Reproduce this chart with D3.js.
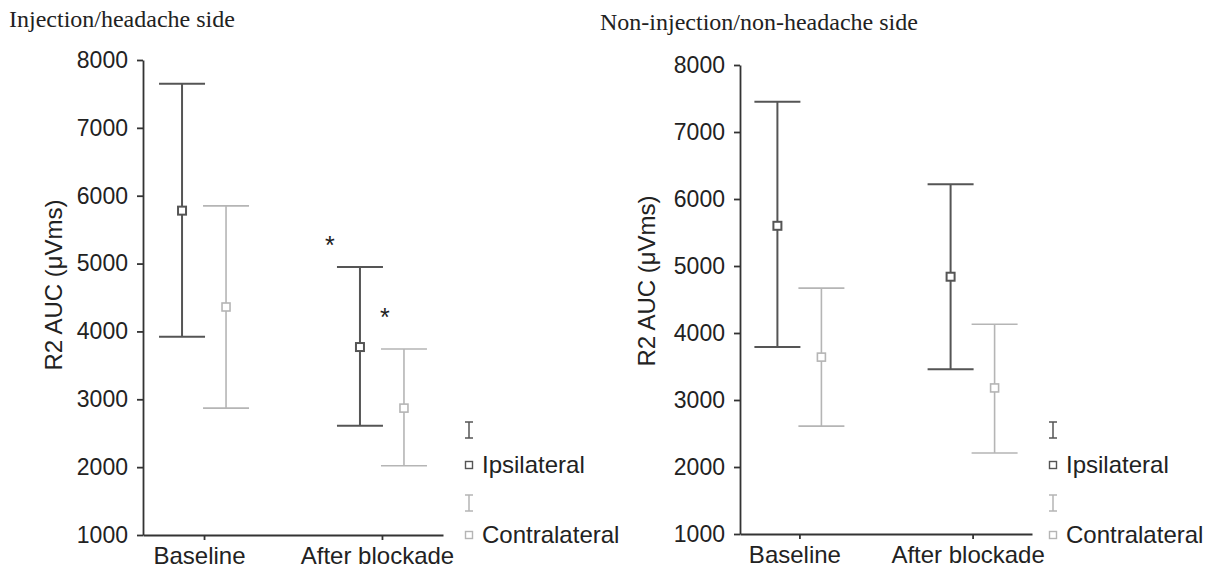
<!DOCTYPE html>
<html>
<head>
<meta charset="utf-8">
<script src="https://cdn.jsdelivr.net/npm/d3@7"></script>
<style>
  body { margin: 0; background: #fff; }
  svg { display: block; }
  text { font-family: Arial, "Liberation Sans", sans-serif; fill: #222; }
  .title { font-family: "Times New Roman", "Liberation Serif", serif; font-size: 24px; }
</style>
</head>
<body>
<svg width="1226" height="572"></svg>
<script>
// ---- data ----
var categories = ["Baseline", "After blockade"];
var series = ["Ipsilateral", "Contralateral"];
var yTicks = [1000, 2000, 3000, 4000, 5000, 6000, 7000, 8000];

// injection / headache side: [low, mean, high] per category
var injIpsi   = [[3920, 5780, 7650], [2610, 3770, 4950]];
var injContra = [[2870, 4360, 5850], [2020, 2870, 3740]];
// non-injection / non-headache side
var nonIpsi   = [[3790, 5600, 7450], [3460, 4840, 6220]];
var nonContra = [[2610, 3640, 4670], [2210, 3180, 4130]];

// significance stars: [category, series, y value]
var injStars = [["After blockade", "Ipsilateral", 5350], ["After blockade", "Contralateral", 4290]];
var nonStars = [];

// ---- setup ----
var svg = d3.select("svg");
var colors = { "Ipsilateral": "#555", "Contralateral": "#b5b5b5" };
var widths = { "Ipsilateral": 2, "Contralateral": 1.6 };
var starDx = { "Ipsilateral": -30, "Contralateral": -19 };
var font = "Arial, 'Liberation Sans', sans-serif";

// draw one panel
const drawPanel = function(p, ipsi, contra, stars) {
  var g = svg.append("g");

  var x = d3.scalePoint().domain(categories).range([p.left, p.right]).padding(0.343);
  var xs = d3.scalePoint().domain(series).range([-22, 22]);
  var y = d3.scaleLinear().domain([1000, 8000]).range([p.bottom, p.top]);

  // title
  g.append("text").attr("class", "title")
    .attr("x", p.titleX).attr("y", p.titleY)
    .text(p.title);

  // y axis
  var ya = g.append("g")
    .attr("transform", "translate(" + p.left + ",0)")
    .call(d3.axisLeft(y).tickValues(yTicks).tickFormat(d3.format("d"))
      .tickSize(6).tickSizeOuter(0).tickPadding(9));
  ya.selectAll("path, line").attr("stroke", "#333").attr("stroke-width", 1.8);
  ya.selectAll("text").attr("font-size", 23).attr("fill", "#222").attr("font-family", font);

  // x axis
  var xa = g.append("g")
    .attr("transform", "translate(0," + p.bottom + ")")
    .call(d3.axisBottom(x).tickSize(5).tickSizeOuter(0).tickPadding(7));
  xa.selectAll("path, line").attr("stroke", "#333").attr("stroke-width", 1.8);
  xa.selectAll("text").attr("font-size", 24).attr("fill", "#222").attr("font-family", font)
    .attr("dx", -5);

  // y label
  g.append("text")
    .attr("transform", "translate(" + p.labelX + "," + p.labelY + ") rotate(-90)")
    .attr("text-anchor", "middle").attr("dy", "0.35em")
    .attr("font-size", 24)
    .text("R2 AUC (\u03bcVms)");

  // error bars
  var rows = [];
  categories.forEach(function(c, i) {
    rows.push({ cat: c, s: "Ipsilateral", v: ipsi[i] });
    rows.push({ cat: c, s: "Contralateral", v: contra[i] });
  });

  var bars = g.selectAll(".bar").data(rows).enter().append("g").attr("class", "bar");
  var cx = function(d) { return x(d.cat) + xs(d.s); };
  var cap = 23;

  bars.append("line")
    .attr("x1", cx).attr("x2", cx)
    .attr("y1", function(d) { return y(d.v[0]); })
    .attr("y2", function(d) { return y(d.v[2]); })
    .attr("stroke", function(d) { return colors[d.s]; })
    .attr("stroke-width", function(d) { return widths[d.s]; });
  [0, 2].forEach(function(k) {
    bars.append("line")
      .attr("x1", function(d) { return cx(d) - cap; })
      .attr("x2", function(d) { return cx(d) + cap; })
      .attr("y1", function(d) { return y(d.v[k]); })
      .attr("y2", function(d) { return y(d.v[k]); })
      .attr("stroke", function(d) { return colors[d.s]; })
      .attr("stroke-width", function(d) { return widths[d.s]; });
  });
  bars.append("rect")
    .attr("x", function(d) { return cx(d) - 4; })
    .attr("y", function(d) { return y(d.v[1]) - 4; })
    .attr("width", 8).attr("height", 8)
    .attr("fill", "#fff")
    .attr("stroke", function(d) { return colors[d.s]; })
    .attr("stroke-width", function(d) { return widths[d.s]; });

  // stars
  g.selectAll(".star").data(stars).enter().append("text")
    .attr("class", "star")
    .attr("x", function(d) { return x(d[0]) + xs(d[1]) + starDx[d[1]]; })
    .attr("y", function(d) { return y(d[2]) + 14; })
    .attr("text-anchor", "middle")
    .attr("font-size", 25).attr("fill", "#444")
    .text("*");

  // legend
  var lg = g.append("g").attr("transform", "translate(" + p.legendX + ",0)");
  var ly = { "Ipsilateral": [430, 465], "Contralateral": [503, 535] };
  series.forEach(function(s) {
    var a = ly[s][0], b = ly[s][1];
    lg.append("path")
      .attr("d", "M-4," + (a - 8) + "H4M0," + (a - 8) + "V" + (a + 8) + "M-4," + (a + 8) + "H4")
      .attr("fill", "none").attr("stroke", colors[s]).attr("stroke-width", 1.5);
    lg.append("rect")
      .attr("x", -3.5).attr("y", b - 3.5).attr("width", 7).attr("height", 7)
      .attr("fill", "#fff").attr("stroke", colors[s]).attr("stroke-width", 1.4);
    lg.append("text")
      .attr("x", 13).attr("y", b).attr("dy", "0.35em")
      .attr("font-size", 24)
      .text(s);
  });
};

drawPanel({ left: 143, right: 443, top: 60, bottom: 535,
            title: "Injection/headache side", titleX: 9, titleY: 27,
            labelX: 54, labelY: 285, legendX: 469 },
          injIpsi, injContra, injStars);

drawPanel({ left: 740, right: 1032, top: 65, bottom: 534,
            title: "Non-injection/non-headache side", titleX: 600, titleY: 30,
            labelX: 647, labelY: 281, legendX: 1053 },
          nonIpsi, nonContra, nonStars);
</script>
</body>
</html>
